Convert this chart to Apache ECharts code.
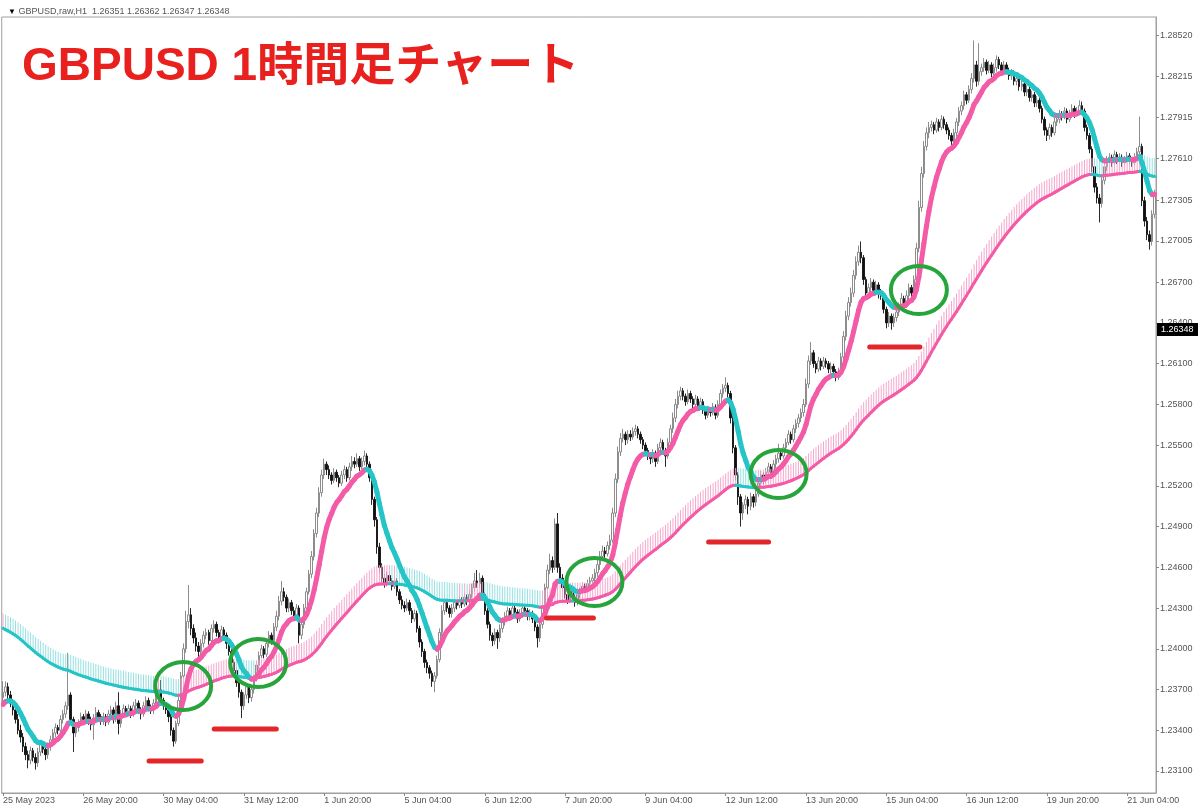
<!DOCTYPE html>
<html><head><meta charset="utf-8">
<script src="https://cdn.jsdelivr.net/npm/echarts@6/dist/echarts.min.js"></script>
<style>html,body{margin:0;padding:0;background:#fff}#c{width:1200px;height:809px}</style>
</head><body><div id="c"></div>
<script>
// Prices stored as pips above 1.2300 (1 pip = 0.0001), one entry per H1 bar
const BASE = 1.23;
const opens = [
64,68,72,66,60,55,48,40,35,28, 22,18,25,20,16,24,30,26,22,28, 33,38,42,40,48,52,58,66,48,38,
42,45,50,48,52,47,44,49,53,50, 47,50,46,52,55,48,58,45,52,56, 54,56,52,58,60,55,52,58,62,57,
55,60,64,70,62,58,55,50,40,32, 45,62,80,100,120,125,115,108,102,98, 104,110,112,106,115,118,112,108,114,110,
104,98,90,84,75,68,58,66,72,64, 70,78,88,95,100,96,104,110,106,116, 124,135,142,138,130,134,128,124,130,110,
118,130,142,155,168,185,200,215,228,236, 232,228,224,230,226,222,228,232,226,234, 238,236,240,234,238,242,236,226,210,195,
175,160,152,148,154,150,146,150,142,136, 132,130,134,128,122,126,115,105,98,90, 86,82,76,80,92,112,128,134,130,126,
130,134,132,136,133,138,135,140,145,150, 148,152,140,128,118,110,106,112,108,115, 120,124,128,124,130,127,122,126,130,128,
124,126,122,116,108,118,132,145,158,165, 160,192,160,152,145,140,136,142,138,134, 140,142,146,144,148,150,152,156,162,168,
172,170,176,180,200,225,245,255,258,254, 258,256,260,262,258,254,250,246,242,240, 244,238,248,252,246,242,252,262,270,280,
286,290,286,282,288,284,280,284,278,282, 276,272,276,274,278,272,280,288,292,294, 288,270,248,228,212,200,206,210,205,212,
208,214,222,228,224,230,234,228,236,240, 244,242,248,252,258,254,262,266,270,274, 280,295,312,318,310,306,312,308,312,310,
306,308,304,300,304,315,330,345,355,362, 375,385,392,388,372,362,366,370,364,368, 362,360,350,340,345,340,344,348,352,358,
354,360,366,362,372,395,425,450,470,480, 484,486,482,488,484,490,486,482,478,474, 480,488,496,500,508,504,512,520,530,518,
525,528,532,526,530,524,528,534,530,526, 530,526,522,524,518,520,514,516,510,512, 506,508,502,504,498,490,482,478,484,480,
488,490,494,492,496,490,494,498,494,496, 500,496,484,478,468,455,440,432,428,445, 455,460,462,458,464,460,462,458,460,463,
460,458,462,466,470,430,415,405,400,420
];
const closes = [
68,72,66,60,55,48,40,35,28,22, 18,25,20,16,24,30,26,22,28,33, 38,42,40,48,52,58,66,48,38,42,
45,50,48,52,47,44,49,53,50,47, 50,46,52,55,48,58,45,52,56,54, 56,52,58,60,55,52,58,62,57,55,
60,64,70,62,58,55,50,40,32,45, 62,80,100,120,125,115,108,102,98,104, 110,112,106,115,118,112,108,114,110,104,
98,90,84,75,68,58,66,72,64,70, 78,88,95,100,96,104,110,106,116,124, 135,142,138,130,134,128,124,130,110,118,
130,142,155,168,185,200,215,228,236,232, 228,224,230,226,222,228,232,226,234,238, 236,240,234,238,242,236,226,210,195,175,
160,152,148,154,150,146,150,142,136,132, 130,134,128,122,126,115,105,98,90,86, 82,76,80,92,112,128,134,130,126,130,
134,132,136,133,138,135,140,145,150,148, 152,140,128,118,110,106,112,108,115,120, 124,128,124,130,127,122,126,130,128,124,
126,122,116,108,118,132,145,158,165,160, 192,160,152,145,140,136,142,138,134,140, 142,146,144,148,150,152,156,162,168,172,
170,176,180,200,225,245,255,258,254,258, 256,260,262,258,254,250,246,242,240,244, 238,248,252,246,242,252,262,270,280,286,
290,286,282,288,284,280,284,278,282,276, 272,276,274,278,272,280,288,292,294,288, 270,248,228,212,200,206,210,205,212,208,
214,222,228,224,230,234,228,236,240,244, 242,248,252,258,254,262,266,270,274,280, 295,312,318,310,306,312,308,312,310,306,
308,304,300,304,315,330,345,355,362,375, 385,392,388,372,362,366,370,364,368,362, 360,350,340,345,340,344,348,352,358,354,
360,366,362,372,395,425,450,470,480,484, 486,482,488,484,490,486,482,478,474,480, 488,496,500,508,504,512,520,530,518,525,
528,532,526,530,524,528,534,530,526,530, 526,522,524,518,520,514,516,510,512,506, 508,502,504,498,490,482,478,484,480,488,
490,494,492,496,490,494,498,494,496,500, 496,484,478,468,455,440,432,428,445,455, 460,462,458,464,460,462,458,460,463,460,
458,462,466,470,430,415,405,400,420,435
];
const highs = [
76,76,75,69,63,58,52,44,38,31, 25,28,27,23,27,33,32,29,31,36, 41,45,44,51,55,61,97,68,50,45,
48,53,52,55,54,50,52,57,55,52, 53,52,55,58,57,61,68,55,59,58, 59,58,61,63,62,57,61,65,64,59,
63,67,74,77,64,60,57,52,42,47, 65,83,104,128,147,130,118,112,105,107, 113,115,114,118,121,120,114,117,116,112,
106,100,92,86,78,70,68,75,74,73, 81,91,98,103,102,107,113,112,119,128, 139,150,145,140,137,136,131,133,132,121,
133,145,158,172,188,204,219,232,240,238, 235,230,233,232,228,231,235,234,237,242, 241,244,242,241,246,244,238,228,212,197,
178,163,155,157,156,152,153,152,144,139, 135,137,136,130,129,128,117,107,100,92, 88,84,83,95,115,132,138,136,132,133,
137,136,139,138,141,140,143,148,156,158, 156,154,142,130,120,112,115,114,118,123, 127,131,130,133,132,129,129,133,132,130,
129,128,124,118,121,135,148,162,170,168, 196,200,163,155,147,142,145,144,140,143, 145,149,148,151,153,155,159,166,172,176,
175,179,184,204,229,249,259,262,260,261, 261,263,265,264,260,256,252,248,244,247, 246,251,255,254,248,255,265,274,284,290,
293,292,288,291,290,286,287,286,285,284, 278,279,278,281,280,283,291,295,300,296, 290,272,250,230,214,208,213,212,215,214,
217,225,231,230,233,237,236,239,243,251, 246,251,255,261,260,265,269,273,277,284, 299,316,326,320,312,315,314,315,314,312,
311,310,306,307,318,334,349,359,366,379, 389,397,400,390,374,369,373,372,371,370, 365,362,352,348,347,347,351,355,362,360,
364,369,368,375,399,430,455,474,484,488, 489,488,491,490,493,492,488,484,480,483, 491,499,503,511,510,515,524,548,533,546,
531,535,534,533,532,531,537,536,532,533, 532,528,527,526,523,522,519,518,515,514, 511,510,507,506,500,492,484,487,486,491,
493,497,496,499,498,497,501,500,499,504, 503,498,486,480,470,457,443,435,448,458, 463,465,464,467,466,465,464,463,466,465,
462,465,469,492,472,433,418,408,423,438
];
const lows = [
60,65,63,57,51,45,37,31,24,18, 12,15,17,11,13,21,23,18,19,25, 30,35,37,38,45,49,55,45,24,35,
39,43,45,46,44,40,33,46,47,44, 44,43,44,49,45,46,37,42,50,51, 51,49,50,55,52,48,50,55,54,52,
52,57,61,59,55,52,46,36,28,30, 43,60,78,97,115,110,104,98,94,95, 101,107,103,104,112,109,104,105,107,100,
95,87,81,72,64,49,55,63,60,61, 67,76,85,93,93,94,101,103,104,113, 121,132,135,127,127,125,121,121,104,107,
115,128,140,152,165,182,197,212,225,228, 225,221,222,223,219,220,225,223,224,231, 233,234,231,232,235,233,223,206,190,170,
156,149,145,146,147,143,144,139,133,129, 127,128,125,119,120,112,101,94,86,82, 78,72,68,78,90,109,125,127,123,123,
127,129,130,130,131,132,133,137,142,145, 145,137,125,115,106,102,103,100,105,112, 117,121,121,122,124,119,120,123,125,121,
121,119,113,101,105,115,129,142,155,156, 158,156,148,142,137,133,134,135,131,132, 137,140,141,142,145,147,149,153,158,165,
167,168,173,178,197,222,242,252,250,251, 253,254,257,255,251,247,243,239,236,237, 234,236,245,243,234,240,249,259,267,277,
283,283,279,280,281,277,278,275,276,273, 269,270,271,272,269,270,278,285,289,285, 266,244,224,206,190,195,203,199,202,204,
205,212,219,221,222,227,225,226,233,237, 239,240,245,250,251,252,259,263,267,271, 278,292,309,307,303,304,305,306,307,303,
303,301,297,298,302,312,327,342,352,359, 372,382,384,368,358,359,363,361,361,358, 357,347,336,337,335,337,341,345,349,351,
351,357,359,359,370,392,422,447,467,476, 481,479,480,481,482,483,479,475,471,472, 477,485,493,497,501,502,509,517,514,515,
522,525,523,524,521,522,525,527,523,524, 523,519,519,515,515,511,511,507,507,503, 503,499,499,495,487,478,474,475,477,478,
485,487,489,490,487,488,491,491,492,493, 493,481,475,465,451,436,428,414,425,442, 452,457,455,456,457,458,455,456,458,457,
455,456,460,463,426,411,401,394,397,417
];
const xTickLabels = ['25 May 2023','26 May 20:00','30 May 04:00','31 May 12:00','1 Jun 20:00','5 Jun 04:00','6 Jun 12:00','7 Jun 20:00','9 Jun 04:00','12 Jun 12:00','13 Jun 20:00','15 Jun 04:00','16 Jun 12:00','19 Jun 20:00','21 Jun 04:00'];
const yTickLabels = ['1.23100','1.23400','1.23700','1.24000','1.24300','1.24600','1.24900','1.25200','1.25500','1.25800','1.26100','1.26400','1.26700','1.27005','1.27305','1.27610','1.27915','1.28215','1.28520'];
// indicator values at the first visible bar (pips)
const fastStart = 59, slowStart = 115, bandStart = 11;
const FAST_PERIOD = 12, SLOW_PERIOD = 100;
const headerText = 'GBPUSD,raw,H1  1.26351 1.26362 1.26347 1.26348';
const titleText = 'GBPUSD 1時間足チャート';
const bidPrice = '1.26348';
// annotations: [bar position, price]
const circleMarks = [[71.8,1.23726],[101.7,1.23895],[235.7,1.24492],[309.1,1.25287],[365.0,1.26642]];
// [from bar, to bar, price]
const lineMarks = [[58.2,79.0,1.23174],[84.2,108.9,1.23409],[216.6,235.3,1.24227],[281.2,305.1,1.24786],[345.4,365.4,1.26222]];

const N = closes.length;
const px = v => +(BASE + v / 10000).toFixed(5);
function ema(src, period, seed) {
  const a = 2 / (period + 1); const out = []; let v = seed;
  for (let i = 0; i < src.length; i++) { if (i > 0) v = v + a * (src[i] - v); out.push(v); }
  return out;
}
const fast = ema(closes, FAST_PERIOD, fastStart);
const slow = ema(closes, SLOW_PERIOD, slowStart);
const band = ema(highs.map((h, i) => h - lows[i]), SLOW_PERIOD, bandStart);

const cats = closes.map((_, i) => String(i));
const candles = closes.map((c, i) => [px(opens[i]), px(c), px(lows[i]), px(highs[i])]);
function segData(vals) {
  const d = [];
  for (let i = 1; i < vals.length; i++) d.push([i, BASE + vals[i-1]/1e4, BASE + vals[i]/1e4, vals[i] >= vals[i-1] ? 1 : 0]);
  return d;
}
const fastSeg = segData(fast), slowSeg = segData(slow);
const hatch = slow.map((v, i) => [i, BASE + v/1e4, BASE + (v + band[i])/1e4, (i === 0 || v >= slow[i-1]) ? 1 : 0]);

const PINK = '#f35ba7', CYAN = '#25c4c7', PINK_L = '#f5a6cd', CYAN_L = '#96e0e2';
function segRenderer(width) {
  return function (params, api) {
    const i = api.value(0);
    const p0 = api.coord([i - 1, api.value(1)]);
    const p1 = api.coord([i, api.value(2)]);
    return { type: 'line', shape: { x1: p0[0], y1: p0[1], x2: p1[0], y2: p1[1] },
      style: { stroke: api.value(3) ? PINK : CYAN, lineWidth: width, lineCap: 'round' } };
  };
}
function barX(api, b, price) {
  const f = Math.floor(b);
  const a = api.coord([f, price]), c = api.coord([f + 1, price]);
  return [a[0] + (b - f) * (c[0] - a[0]), a[1]];
}
const everyLabel = (idx) => idx % 32 === 0;

const chart = echarts.init(document.getElementById('c'), null, { renderer: 'canvas' });
chart.setOption({
  animation: false,
  backgroundColor: '#ffffff',
  title: [
    { text: '{t|▼} ' + headerText, left: 3, top: 2,
      textStyle: { fontSize: 9, fontWeight: 'normal', color: '#555', fontFamily: 'Liberation Sans',
        rich: { t: { fontSize: 8, color: '#000' } } } },
    { text: titleText, left: 17, top: 39,
      textStyle: { fontSize: 46, fontWeight: 'bold', color: '#e8211f', fontFamily: "'Liberation Sans', 'Noto Sans CJK JP'" } }
  ],
  grid: { left: 1, right: 44, top: 17, bottom: 16, show: true, borderColor: '#a0a0a0', borderWidth: 1, backgroundColor: 'transparent' },
  xAxis: {
    type: 'category', data: cats, boundaryGap: true,
    axisLine: { show: true, lineStyle: { color: '#a0a0a0' } },
    axisTick: { show: true, interval: everyLabel, alignWithLabel: true, length: 3, lineStyle: { color: '#888' } },
    axisLabel: { interval: everyLabel, formatter: (v, idx) => xTickLabels[Math.round(Number(v) / 32)] || '',
      align: 'left', margin: 3, fontSize: 9, color: '#555', fontFamily: 'Liberation Sans' },
    splitLine: { show: false }
  },
  yAxis: {
    type: 'value', position: 'right', min: 1.22938, max: 1.28653, scale: true,
    axisLine: { show: true, lineStyle: { color: '#a0a0a0' } },
    axisTick: { show: true, length: 3, customValues: yTickLabels.map(Number), lineStyle: { color: '#888' } },
    axisLabel: { customValues: yTickLabels.map(Number), formatter: v => { const s = v.toFixed(5); return yTickLabels.indexOf(s) >= 0 ? s : ''; },
      margin: 4, fontSize: 9, color: '#555', fontFamily: 'Liberation Sans' },
    splitLine: { show: false }
  },
  series: [
    { type: 'candlestick', data: candles, barWidth: 2, z: 2,
      itemStyle: { color: '#ffffff', color0: '#111111', borderColor: '#808080', borderColor0: '#111111', borderWidth: 0.9 } },
    { type: 'custom', z: 3, clip: true, data: hatch, encode: { x: 0, y: [1, 2] },
      renderItem: (params, api) => {
        const a = api.coord([api.value(0), api.value(1)]);
        const b = api.coord([api.value(0), api.value(2)]);
        return { type: 'line', shape: { x1: a[0], y1: a[1], x2: b[0], y2: b[1] },
          style: { stroke: api.value(3) ? PINK_L : CYAN_L, lineWidth: 1 } };
      } },
    { type: 'custom', z: 4, clip: true, data: slowSeg, encode: { x: 0, y: [1, 2] }, renderItem: segRenderer(3) },
    { type: 'custom', z: 5, clip: true, data: fastSeg, encode: { x: 0, y: [1, 2] }, renderItem: segRenderer(5) },
    { type: 'custom', z: 10, clip: false, data: circleMarks.map(m => [Math.round(m[0]), m[1]]), encode: { x: 0, y: 1 },
      renderItem: (params, api) => {
        const m = circleMarks[params.dataIndex];
        const p = barX(api, m[0], m[1]);
        return { type: 'ellipse', shape: { cx: p[0], cy: p[1], rx: 28, ry: 24 },
          style: { fill: 'none', stroke: '#27a43b', lineWidth: 4 } };
      } },
    { type: 'custom', z: 10, clip: false, data: lineMarks.map(m => [Math.round(m[0]), m[2]]), encode: { x: 0, y: 1 },
      renderItem: (params, api) => {
        const m = lineMarks[params.dataIndex];
        const a = barX(api, m[0], m[2]), b = barX(api, m[1], m[2]);
        return { type: 'line', shape: { x1: a[0], y1: a[1], x2: b[0], y2: b[1] },
          style: { stroke: '#e3262a', lineWidth: 5, lineCap: 'round' } };
      } },
    { type: 'custom', z: 20, clip: false, data: [[N - 1, Number(bidPrice)]], encode: { x: 0, y: 1 },
      renderItem: (params, api) => {
        const cs = params.coordSys;
        const y = api.coord([api.value(0), api.value(1)])[1];
        const x0 = cs.x + cs.width + 1;
        return { type: 'group', children: [
          { type: 'rect', shape: { x: x0, y: y - 7, width: 41, height: 13 }, style: { fill: '#000' } },
          { type: 'text', style: { x: x0 + 4, y: y, text: bidPrice, fill: '#fff', fontSize: 9,
            fontFamily: 'Liberation Sans', align: 'left', verticalAlign: 'middle' } }
        ] };
      } }
  ]
});
</script></body></html>
